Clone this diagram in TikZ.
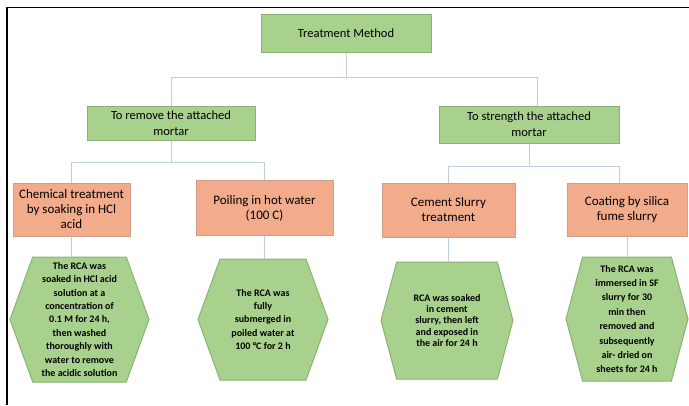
\documentclass[tikz,border=0pt]{standalone}
\usepackage{fontspec}
\setmainfont{Carlito}
\usetikzlibrary{shapes.symbols}

\definecolor{boxgreen}{RGB}{169,209,142}
\definecolor{edgegreen}{RGB}{138,178,112}
\definecolor{boxorange}{RGB}{242,172,140}
\definecolor{edgeorange}{RGB}{205,160,140}
\definecolor{linkblue}{RGB}{190,205,225}

\begin{document}
\begin{tikzpicture}[x=1pt,y=-1pt,
    greenbox/.style={draw=edgegreen,fill=boxgreen,line width=1pt,align=center,
        inner sep=2pt,font=\fontsize{12.5}{16}\selectfont},
    orangebox/.style={draw=edgeorange,fill=boxorange,line width=1pt,align=center,
        inner sep=2pt,font=\fontsize{13}{15}\selectfont},
    hexbox/.style={signal,signal to=east and west,signal pointer angle=140,
        draw=edgegreen,fill=boxgreen,line width=1pt,align=center,inner sep=1pt,
        font=\bfseries\fontsize{10}{13.4}\selectfont},
    link/.style={draw=linkblue,line width=1pt}]
    \useasboundingbox (0,0) rectangle (689,405);
    \draw[line width=1.5pt] (7,405) -- (7,7.5) -- (689,7.5);

    \node[greenbox,minimum width=170pt,minimum height=38pt] (TM) at (346,33) {Treatment Method};
    \node[greenbox,minimum width=168pt,minimum height=34pt] (RM) at (171,123) {To remove the attached\\mortar};
    \node[greenbox,minimum width=180pt,minimum height=37pt] (SM) at (529,124.5) {To strength the attached\\mortar};

    \node[orangebox,minimum width=117pt,minimum height=53pt] (CT) at (71.5,209.5) {Chemical treatment\\by soaking in HCl\\acid};
    \node[orangebox,minimum width=137pt,minimum height=55pt] (PW) at (264.5,208) {Poiling in hot water\\(100 C)};
    \node[orangebox,minimum width=133pt,minimum height=54pt] (CS) at (448.5,210) {Cement Slurry\\treatment};
    \node[orangebox,minimum width=120pt,minimum height=53pt] (SF) at (627,209.5) {Coating by silica\\fume slurry};

    \node[hexbox,minimum width=139pt,minimum height=125pt] (CTd) at (79.5,319.5) {The RCA was\\soaked in HCl acid\\solution at a\\concentration of\\0.1 M for 24 h,\\then washed\\thoroughly with\\water to remove\\the acidic solution};
    \node[hexbox,minimum width=130pt,minimum height=121pt] (PWd) at (263,319.5) {The RCA was\\fully\\submerged in\\poiled water at\\100 °C for 2 h};
    \node[hexbox,minimum width=132pt,minimum height=117pt,signal pointer angle=150,
        font=\bfseries\fontsize{10}{11.2}\selectfont] (CSd) at (447,320.5) {RCA was soaked\\in cement\\slurry, then left\\and exposed in\\the air for 24 h};
    \node[hexbox,minimum width=122pt,minimum height=124pt,signal pointer angle=150,
        font=\bfseries\fontsize{10}{14.4}\selectfont] (SFd) at (627,319) {The RCA was\\immersed in SF\\slurry for 30\\min then\\removed and\\subsequently\\air- dried on\\sheets for 24 h};

    \draw[link] (TM.south) -- ++(0,25) coordinate (TMj);
    \draw[link] (TMj) -| (RM.north);
    \draw[link] (TMj) -| ([xshift=8pt]SM.north);
    \draw[link] (RM.south) -- ++(0,22) coordinate (RMj);
    \draw[link] (RMj) -| (CT.north);
    \draw[link] (RMj) -| (PW.north);
    \draw[link] (SM.south) -- ++(0,23) coordinate (SMj);
    \draw[link] (SMj) -| (CS.north);
    \draw[link] (SMj) -| ([xshift=-8pt]SF.north);
    \draw[link] (CT.south) -- (CT.south |- CTd.north);
    \draw[link] (PW.south) -- (PW.south |- PWd.north);
    \draw[link] (CS.south) -- (CS.south |- CSd.north);
    \draw[link] (SF.south) -- (SF.south |- SFd.north);
\end{tikzpicture}
\end{document}
